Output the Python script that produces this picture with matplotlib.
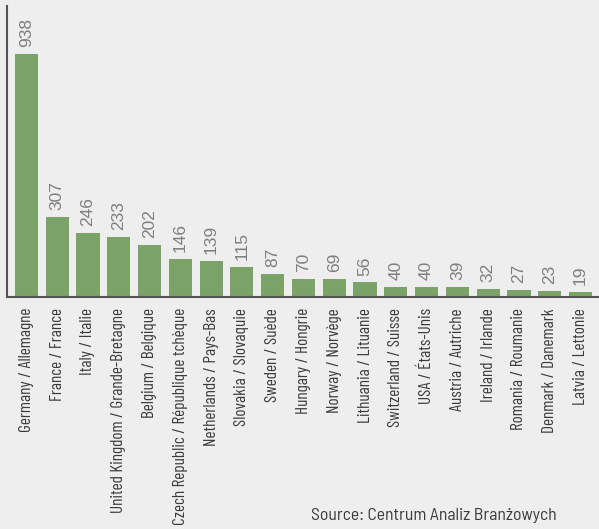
import matplotlib
matplotlib.use("Agg")
import matplotlib.pyplot as plt

countries = [
    "Germany / Allemagne", "France / France", "Italy / Italie",
    "United Kingdom / Grande-Bretagne", "Belgium / Belgique",
    "Czech Republic / République tchèque", "Netherlands / Pays-Bas",
    "Slovakia / Slovaquie", "Sweden / Suède", "Hungary / Hongrie",
    "Norway / Norvège", "Lithuania / Lituanie", "Switzerland / Suisse",
    "USA / États-Unis", "Austria / Autriche", "Ireland / Irlande",
    "Romania / Roumanie", "Denmark / Danemark", "Latvia / Lettonie",
]
values = [938, 307, 246, 233, 202, 146, 139, 115, 87, 70, 69, 56, 40, 40, 39, 32, 27, 23, 19]

label_font = ["Barlow Condensed", "DejaVu Sans"]
source_font = ["Barlow Semi Condensed", "DejaVu Sans"]
bg = "#eeeeee"

fig = plt.figure(figsize=(5.99, 5.29), dpi=100, facecolor=bg)
ax = fig.add_axes([0.0117, 0.4386, 0.9883, 0.55], facecolor=bg)

# bars + rotated value labels above them
x = range(len(values))
ax.bar(x, values, width=0.75, color="#7ba368")
for xi, v in zip(x, values):
    ax.annotate(str(v), (xi, v), xytext=(0, 5), textcoords="offset points",
                rotation=90, ha="center", va="bottom",
                fontsize=12.5, color="#7f7f7f", family="Liberation Sans")

ax.set_xlim(-0.63, 18.6)
ax.set_ylim(0, 1123)
ax.set_xticks(list(x))
ax.set_xticklabels(countries, rotation=90, fontsize=12.4, color="#3a3a3a",
                   family=label_font)
ax.tick_params(axis="x", length=0, pad=8)
ax.set_yticks([])
for s in ["top", "right"]:
    ax.spines[s].set_visible(False)
for s in ["left", "bottom"]:
    ax.spines[s].set_color("#555555")
    ax.spines[s].set_linewidth(1.5)

fig.text(0.93, 0.012, "Source: Centrum Analiz Branżowych", ha="right", va="bottom",
         fontsize=12.7, color="#3a3a3a", family=source_font)

fig.savefig("out.png", dpi=100, facecolor=bg)
